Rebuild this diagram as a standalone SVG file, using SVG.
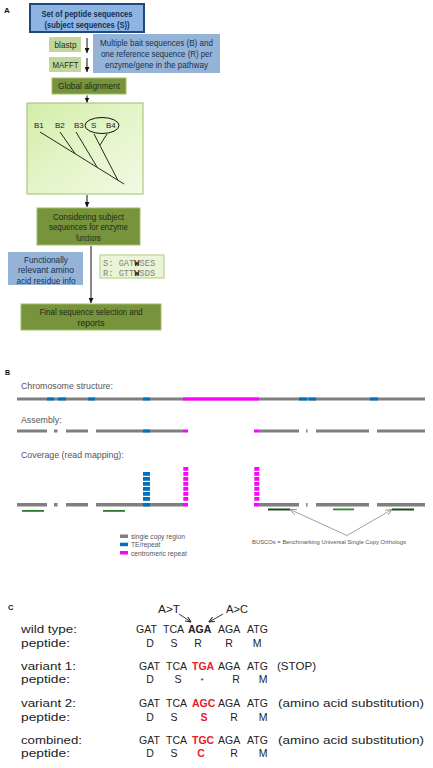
<svg xmlns="http://www.w3.org/2000/svg" width="433" height="768" viewBox="0 0 433 768">
<defs>
<marker id="ah" markerUnits="userSpaceOnUse" markerWidth="5" markerHeight="5" refX="5" refY="2.5" orient="auto">
<path d="M0,0 L5,2.5 L0,5 z" fill="#111"/>
</marker>
<marker id="ahg" markerUnits="userSpaceOnUse" markerWidth="7" markerHeight="6" refX="6.5" refY="3" orient="auto">
<path d="M0,0 L6.5,3 L0,6" fill="none" stroke="#888" stroke-width="0.8"/>
</marker>
<marker id="ahc" markerUnits="userSpaceOnUse" markerWidth="6" markerHeight="6" refX="5.5" refY="3" orient="auto">
<path d="M0,0.5 L5.5,3 L0,5.5" fill="none" stroke="#222" stroke-width="1"/>
</marker>
<linearGradient id="treeg" x1="0" y1="0" x2="1" y2="1">
<stop offset="0" stop-color="#D3EDA8"/>
<stop offset="0.5" stop-color="#E4F5C8"/>
<stop offset="1" stop-color="#F1FAE4"/>
</linearGradient>
</defs>
<style>
.lbl{font-family:"Liberation Sans",Arial,sans-serif;font-weight:bold;fill:#111}
.ta{font-family:"Liberation Sans",Arial,sans-serif;font-size:8.8px;fill:#1d2b1a;text-anchor:middle}
.tb{font-family:"Liberation Sans",Arial,sans-serif;font-size:8.8px;fill:#17304f;text-anchor:middle}
.olive{fill:#77933C;stroke:#A3BE66;stroke-width:1}
.lgreen{fill:#C3D69B}
.blue{fill:#95B3D7}
.conn{stroke:#111;stroke-width:1;fill:none}
.tree{stroke:#111;stroke-width:0.9;fill:none}
.mono{font-family:"Liberation Mono","Courier New",monospace;font-size:8.7px;fill:#808080}
.gt{font-family:"Liberation Sans",Arial,sans-serif;fill:#555}
.grey{fill:#7F7F7F}
.tec{fill:#0070C0}
.cen{fill:#FF00FF}
.ct{font-family:"Liberation Sans",Arial,sans-serif;font-size:10.5px;fill:#222}
.red{fill:#E8202A;font-weight:bold}
</style>

<!-- Panel A -->
<text class="lbl" x="4" y="13" font-size="8">A</text>

<g id="node-set">
<rect x="30" y="4" width="114" height="28" fill="#8EB4E3" stroke="#1F497D" stroke-width="2"/>
<text class="tb" x="87" y="17" font-weight="bold" textLength="91" lengthAdjust="spacingAndGlyphs">Set of peptide sequences</text>
<text class="tb" x="87" y="27.5" font-weight="bold" textLength="85" lengthAdjust="spacingAndGlyphs">(subject sequences (S))</text>
</g>

<g id="node-blastp">
<rect class="lgreen" x="49" y="37" width="32" height="15"/>
<text class="ta" x="65.5" y="47.5" textLength="22" lengthAdjust="spacingAndGlyphs">blastp</text>
</g>

<g id="node-mafft">
<rect class="lgreen" x="49" y="57" width="32" height="15"/>
<text class="ta" x="65.5" y="67.8" textLength="26" lengthAdjust="spacingAndGlyphs">MAFFT</text>
</g>

<g id="node-bait">
<rect class="blue" x="93" y="34" width="127" height="39"/>
<text class="tb" x="156.5" y="46.3" textLength="113" lengthAdjust="spacingAndGlyphs">Multiple bait sequences (B) and</text>
<text class="tb" x="156.5" y="57.3" textLength="111" lengthAdjust="spacingAndGlyphs">one reference sequence (R) per</text>
<text class="tb" x="156.5" y="68.3" textLength="103" lengthAdjust="spacingAndGlyphs">enzyme/gene in the pathway</text>
</g>

<g id="node-global">
<rect class="olive" x="52" y="78" width="74" height="16"/>
<text class="ta" x="89" y="89.3" textLength="62" lengthAdjust="spacingAndGlyphs">Global alignment</text>
</g>

<g id="node-tree">
<rect x="27" y="103" width="116" height="91" fill="url(#treeg)" stroke="#9FC06A" stroke-width="1"/>
<g font-family="Liberation Sans,Arial,sans-serif" font-size="8" fill="#222">
<text x="34" y="128">B1</text>
<text x="55" y="128">B2</text>
<text x="74" y="128">B3</text>
<text x="91" y="128">S</text>
<text x="106" y="128">B4</text>
</g>
<ellipse cx="102" cy="125.5" rx="17" ry="8" fill="none" stroke="#111" stroke-width="1"/>
<path class="tree" d="M40,132 L124,184 M60,132 L75,153.5 M76,132 L97,167 M94,134 L118,180.5 M107,134 L100,145"/>
</g>

<g id="node-considering">
<rect class="olive" x="37" y="208" width="103" height="37"/>
<text class="ta" x="88.5" y="220" textLength="71" lengthAdjust="spacingAndGlyphs">Considering subject</text>
<text class="ta" x="88.5" y="230.3" textLength="79" lengthAdjust="spacingAndGlyphs">sequences for enzyme</text>
<text class="ta" x="88.5" y="240.6" textLength="25" lengthAdjust="spacingAndGlyphs">functions</text>
</g>

<g id="node-functional">
<rect class="blue" x="8" y="252" width="75" height="33"/>
<text class="tb" x="46" y="263" textLength="44" lengthAdjust="spacingAndGlyphs">Functionally</text>
<text class="tb" x="46" y="273.3" textLength="56" lengthAdjust="spacingAndGlyphs">relevant amino</text>
<text class="tb" x="46" y="283.6" textLength="59" lengthAdjust="spacingAndGlyphs">acid residue info</text>
</g>

<g id="node-seq">
<rect x="100" y="255" width="64" height="23" fill="#EAF5D8" stroke="#B9D48C" stroke-width="1.2"/>
<text class="mono" x="103" y="266">S: GAT<tspan fill="#111" font-weight="bold">W</tspan>SES</text>
<text class="mono" x="103" y="275.5">R: GTT<tspan fill="#111" font-weight="bold">W</tspan>SDS</text>
</g>

<g id="node-final">
<rect class="olive" x="21" y="304" width="140" height="26"/>
<text class="ta" x="91" y="315.3" textLength="103" lengthAdjust="spacingAndGlyphs">Final sequence selection and</text>
<text class="ta" x="91" y="325.6" textLength="27" lengthAdjust="spacingAndGlyphs">reports</text>
</g>

<g id="connectors">
<line class="conn" x1="87" y1="38" x2="87" y2="53" marker-end="url(#ah)"/>
<line class="conn" x1="87" y1="58" x2="87" y2="72" marker-end="url(#ah)"/>
<line class="conn" x1="87" y1="95.5" x2="87" y2="102.5" marker-end="url(#ah)"/>
<line class="conn" x1="87" y1="195" x2="87" y2="207" marker-end="url(#ah)"/>
<line class="conn" x1="91" y1="246" x2="91" y2="303" marker-end="url(#ah)"/>
</g>

<!-- Panel B -->
<text class="lbl" x="5" y="375" font-size="7">B</text>
<g id="chromosome">
<text class="gt" x="21" y="389" font-size="8.8">Chromosome structure:</text>
<rect class="grey" x="17" y="397.5" width="408" height="3"/>
<rect class="tec" x="47" y="397.5" width="7" height="3"/>
<rect class="tec" x="58" y="397.5" width="8" height="3"/>
<rect class="tec" x="88" y="397.5" width="7" height="3"/>
<rect class="tec" x="143" y="397.5" width="7" height="3"/>
<rect class="cen" x="183" y="397.5" width="76" height="3"/>
<rect class="tec" x="299" y="397.5" width="8" height="3"/>
<rect class="tec" x="308.5" y="397.5" width="7.5" height="3"/>
<rect class="tec" x="370" y="397.5" width="8" height="3"/>
</g>

<g id="assembly">
<text class="gt" x="21" y="423" font-size="8.8">Assembly:</text>
<rect class="grey" x="17" y="429.5" width="30" height="3"/>
<rect class="grey" x="54" y="429.5" width="3.5" height="3"/>
<rect class="grey" x="66" y="429.5" width="22" height="3"/>
<rect class="grey" x="96" y="429.5" width="87" height="3"/>
<rect class="tec" x="143" y="429.5" width="7" height="3"/>
<rect class="cen" x="183" y="429.5" width="5" height="3"/>
<rect class="cen" x="254" y="429.5" width="5" height="3"/>
<rect class="grey" x="259" y="429.5" width="40" height="3"/>
<rect class="grey" x="306" y="429.5" width="1.5" height="3"/>
<rect class="grey" x="316" y="429.5" width="53" height="3"/>
<rect class="grey" x="377" y="429.5" width="48" height="3"/>
</g>

<g id="coverage">
<text class="gt" x="21" y="457.5" font-size="8.8">Coverage (read mapping):</text>
<rect class="grey" x="17" y="503" width="30" height="3.5"/>
<rect class="grey" x="54" y="503" width="3.5" height="3.5"/>
<rect class="grey" x="66" y="503" width="22" height="3.5"/>
<rect class="grey" x="96" y="503" width="87" height="3.5"/>
<rect class="tec" x="143" y="503" width="7" height="3.5"/>
<rect class="cen" x="183" y="503" width="5" height="3.5"/>
<rect class="cen" x="254" y="503" width="5" height="3.5"/>
<rect class="grey" x="259" y="503" width="40" height="3.5"/>
<rect class="grey" x="306" y="503" width="1.5" height="3.5"/>
<rect class="grey" x="316" y="503" width="53" height="3.5"/>
<rect class="grey" x="377" y="503" width="48" height="3.5"/>
<g class="tec">
<rect x="143" y="472" width="7" height="3.8"/>
<rect x="143" y="477" width="7" height="3.8"/>
<rect x="143" y="482" width="7" height="3.8"/>
<rect x="143" y="487" width="7" height="3.8"/>
<rect x="143" y="492" width="7" height="3.8"/>
<rect x="143" y="497" width="7" height="3.8"/>
</g>
<g class="cen">
<rect x="183.3" y="467" width="5" height="3.8"/>
<rect x="183.3" y="472" width="5" height="3.8"/>
<rect x="183.3" y="477" width="5" height="3.8"/>
<rect x="183.3" y="482" width="5" height="3.8"/>
<rect x="183.3" y="487" width="5" height="3.8"/>
<rect x="183.3" y="492" width="5" height="3.8"/>
<rect x="183.3" y="497" width="5" height="3.8"/>
<rect x="254.3" y="467" width="5" height="3.8"/>
<rect x="254.3" y="472" width="5" height="3.8"/>
<rect x="254.3" y="477" width="5" height="3.8"/>
<rect x="254.3" y="482" width="5" height="3.8"/>
<rect x="254.3" y="487" width="5" height="3.8"/>
<rect x="254.3" y="492" width="5" height="3.8"/>
<rect x="254.3" y="497" width="5" height="3.8"/>
</g>
<rect x="22" y="510" width="22" height="1.8" fill="#2E7A2E"/>
<rect x="103" y="510" width="22" height="1.8" fill="#2E7A2E"/>
<rect x="268" y="508.5" width="22" height="2" fill="#1B4A1E"/>
<rect x="333" y="508.5" width="21" height="1.8" fill="#2E8A2E"/>
<rect x="392" y="508.5" width="22" height="2" fill="#1B4A1E"/>
</g>

<g id="legend">
<rect class="grey" x="120" y="534.5" width="8" height="3.5"/>
<rect class="tec" x="120" y="542.7" width="8" height="3.5"/>
<rect class="cen" x="120" y="551" width="8" height="3.5"/>
<text class="gt" x="131" y="539" font-size="6.7">single copy region</text>
<text class="gt" x="131" y="547.3" font-size="6.7">TE/repeat</text>
<text class="gt" x="131" y="555.7" font-size="6.7">centromeric repeat</text>
</g>

<g id="busco-note">
<text class="gt" x="252" y="544" font-size="5.8" textLength="154" lengthAdjust="spacingAndGlyphs">BUSCOs = Benchmarking Universal Single Copy Orthologs</text>
<line x1="347" y1="535.5" x2="290" y2="509.5" stroke="#888" stroke-width="0.8" marker-end="url(#ahg)"/>
<line x1="347" y1="535.5" x2="392" y2="509.5" stroke="#888" stroke-width="0.8" marker-end="url(#ahg)"/>
</g>

<!-- Panel C -->
<text class="lbl" x="8" y="610" font-size="7.5">C</text>
<g id="mutations">
<text class="ct" x="158" y="613" textLength="22" lengthAdjust="spacingAndGlyphs">A&gt;T</text>
<text class="ct" x="226" y="613" textLength="22" lengthAdjust="spacingAndGlyphs">A&gt;C</text>
<line x1="179" y1="614" x2="191" y2="622" stroke="#222" stroke-width="0.9" marker-end="url(#ahc)"/>
<line x1="223" y1="614" x2="209" y2="622" stroke="#222" stroke-width="0.9" marker-end="url(#ahc)"/>
</g>

<g id="row-wild">
<text class="ct" x="21" y="633" textLength="56" lengthAdjust="spacingAndGlyphs">wild type:</text>
<text class="ct" y="633"><tspan x="136">GAT</tspan><tspan x="163">TCA</tspan><tspan x="188" font-weight="bold">AGA</tspan><tspan x="218">AGA</tspan><tspan x="247">ATG</tspan></text>
<text class="ct" x="21" y="647" textLength="49" lengthAdjust="spacingAndGlyphs">peptide:</text>
<text class="ct" y="647" text-anchor="middle"><tspan x="150">D</tspan><tspan x="174">S</tspan><tspan x="198">R</tspan><tspan x="229">R</tspan><tspan x="257">M</tspan></text>
</g>

<g id="row-variant1">
<text class="ct" x="21" y="670" textLength="55" lengthAdjust="spacingAndGlyphs">variant 1:</text>
<text class="ct" y="670"><tspan x="139">GAT</tspan><tspan x="166">TCA</tspan><tspan x="192" class="red">TGA</tspan><tspan x="218">AGA</tspan><tspan x="247">ATG</tspan></text>
<text class="ct" x="277" y="670" textLength="39" lengthAdjust="spacingAndGlyphs">(STOP)</text>
<text class="ct" x="21" y="683" textLength="49" lengthAdjust="spacingAndGlyphs">peptide:</text>
<text class="ct" y="683" text-anchor="middle"><tspan x="150">D</tspan><tspan x="178">S</tspan><tspan x="202" font-size="8">*</tspan><tspan x="236">R</tspan><tspan x="263">M</tspan></text>
</g>

<g id="row-variant2">
<text class="ct" x="21" y="707" textLength="55" lengthAdjust="spacingAndGlyphs">variant 2:</text>
<text class="ct" y="707"><tspan x="139">GAT</tspan><tspan x="166">TCA</tspan><tspan x="192" class="red">AGC</tspan><tspan x="218">AGA</tspan><tspan x="247">ATG</tspan></text>
<text class="ct" x="278" y="707" textLength="146" lengthAdjust="spacingAndGlyphs">(amino acid substitution)</text>
<text class="ct" x="21" y="721" textLength="49" lengthAdjust="spacingAndGlyphs">peptide:</text>
<text class="ct" y="721" text-anchor="middle"><tspan x="150">D</tspan><tspan x="174">S</tspan><tspan x="204" class="red">S</tspan><tspan x="234">R</tspan><tspan x="263">M</tspan></text>
</g>

<g id="row-combined">
<text class="ct" x="21" y="744" textLength="61" lengthAdjust="spacingAndGlyphs">combined:</text>
<text class="ct" y="744"><tspan x="139">GAT</tspan><tspan x="166">TCA</tspan><tspan x="192" class="red">TGC</tspan><tspan x="218">AGA</tspan><tspan x="247">ATG</tspan></text>
<text class="ct" x="278" y="744" textLength="146" lengthAdjust="spacingAndGlyphs">(amino acid substitution)</text>
<text class="ct" x="21" y="757" textLength="49" lengthAdjust="spacingAndGlyphs">peptide:</text>
<text class="ct" y="757" text-anchor="middle"><tspan x="150">D</tspan><tspan x="174">S</tspan><tspan x="201" class="red">C</tspan><tspan x="234">R</tspan><tspan x="263">M</tspan></text>
</g>
</svg>
